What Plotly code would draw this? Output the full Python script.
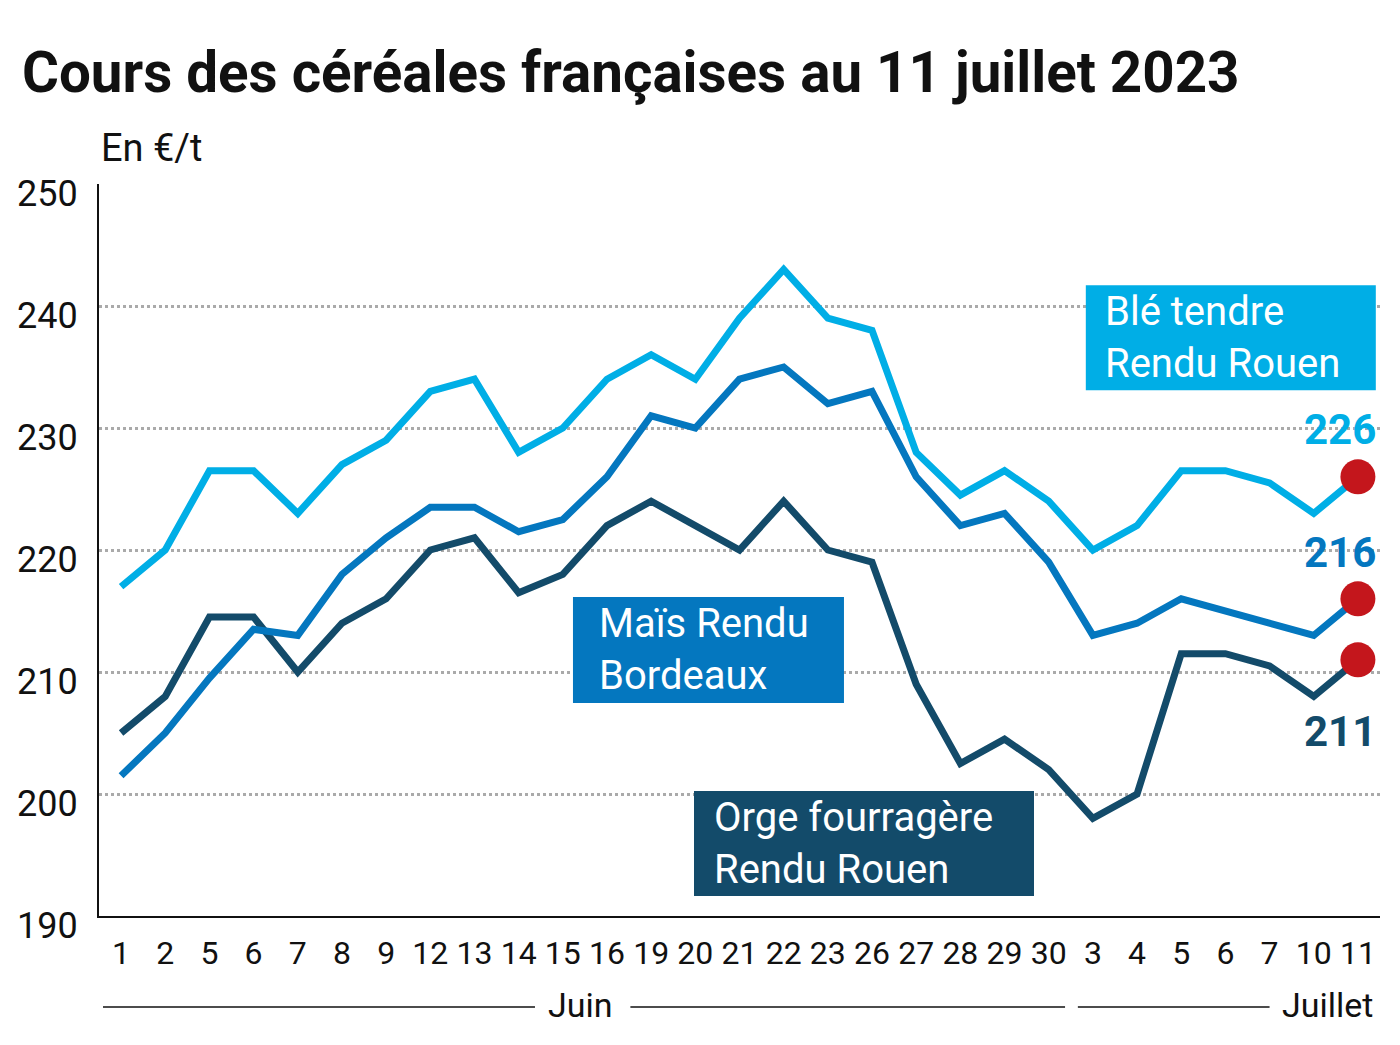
import plotly.graph_objects as go

# ---- data ----
days = ["1", "2", "5", "6", "7", "8", "9", "12", "13", "14", "15", "16", "19", "20", "21",
        "22", "23", "26", "27", "28", "29", "30", "3", "4", "5", "6", "7", "10", "11"]
ble = [217, 220, 226.5, 226.5, 223, 227, 229, 233, 234, 228, 230, 234, 236, 234, 239,
       243, 239, 238, 228, 224.5, 226.5, 224, 220, 222, 226.5, 226.5, 225.5, 223, 226]
mais = [201.5, 205, 209.5, 213.5, 213, 218, 221, 223.5, 223.5, 221.5, 222.5, 226, 231, 230, 234,
        235, 232, 233, 226, 222, 223, 219, 213, 214, 216, 215, 214, 213, 216]
orge = [205, 208, 214.5, 214.5, 210, 214, 216, 220, 221, 216.5, 218, 222, 224, 222, 220,
        224, 220, 219, 209, 202.5, 204.5, 202, 198, 200, 211.5, 211.5, 210.5, 208, 211]
y_ticks = [190, 200, 210, 220, 230, 240, 250]

C_BLE = "#00AEE6"
C_MAIS = "#0477BF"
C_ORGE = "#134B6A"
C_RED = "#C4161C"
FONT = "Roboto"

x = list(range(len(days)))
n = len(days)

fig = go.Figure()
for vals, col in [(orge, C_ORGE), (mais, C_MAIS), (ble, C_BLE)]:
    fig.add_trace(go.Scatter(x=x, y=vals, mode="lines",
                             line=dict(color=col, width=7), hoverinfo="skip"))
fig.add_trace(go.Scatter(x=[x[-1]] * 3, y=[ble[-1], mais[-1], orge[-1]], mode="markers",
                         marker=dict(color=C_RED, size=35), hoverinfo="skip"))

fig.update_layout(
    width=1400, height=1045,
    margin=dict(l=99, r=20, t=184, b=129, autoexpand=False),
    plot_bgcolor="white", paper_bgcolor="white",
    showlegend=False,
    font=dict(family=FONT, color="#111111"),
    title=dict(text="<b>Cours des céréales françaises au 11 juillet 2023</b>",
               x=22 / 1400, xref="container", xanchor="left",
               y=1 - 72 / 1045, yref="container", yanchor="middle",
               font=dict(family=FONT, size=56.5, color="#111111")),
    xaxis=dict(range=[-0.5, n - 0.5], tickvals=x, ticktext=days,
               showgrid=False, zeroline=False, automargin=False,
               showline=True, linecolor="#111111", linewidth=2,
               ticks="", ticklabelstandoff=8,
               tickfont=dict(size=32, color="#111111", family=FONT)),
    yaxis=dict(range=[190, 250], tickvals=y_ticks,
               showgrid=True, gridcolor="#AAAAAA", gridwidth=3, griddash="dot",
               zeroline=False, showline=True, linecolor="#111111", linewidth=2,
               automargin=False,
               ticks="", ticklabelstandoff=12, ticklabelshift=9,
               tickfont=dict(size=36, color="#111111", family=FONT)),
)

ann = []
ann.append(dict(text="En €/t", xref="paper", yref="paper", x=0.0, y=(916 - 148) / 732,
                xanchor="left", yanchor="middle", showarrow=False,
                font=dict(size=38, color="#111111")))

# series label boxes: (text, colour, left x, top y, width px, height px, text pad px)
boxes = [
    ("Blé tendre<br>Rendu Rouen", C_BLE, 21.84, 241.7, 290, 105, 17),
    ("Maïs Rendu<br>Bordeaux", C_MAIS, 10.23, 216.15, 271, 106, 24),
    ("Orge fourragère<br>Rendu Rouen", C_ORGE, 12.97, 200.25, 340, 105, 18),
]
px_per_x = 1281 / n
px_per_y = 732 / 60
shapes = []
for txt, col, bx, by, bw, bh, pad in boxes:
    shapes.append(dict(type="rect", xref="x", yref="y", x0=bx, x1=bx + bw / px_per_x,
                       y0=by, y1=by - bh / px_per_y, fillcolor=col, line=dict(width=0),
                       layer="above"))
    ann.append(dict(text=txt, xref="x", yref="y", x=bx, y=by - bh / px_per_y / 2,
                    xanchor="left", yanchor="middle", align="left", xshift=pad,
                    showarrow=False, font=dict(size=40, color="white")))

# end value labels
for vals, col, ys in [(ble, C_BLE, 47), (mais, C_MAIS, 46), (orge, C_ORGE, -72)]:
    ann.append(dict(text="<b>%d</b>" % round(vals[-1]), xref="x", yref="y",
                    x=x[-1], y=vals[-1], xshift=-18, yshift=ys,
                    xanchor="center", yanchor="middle", showarrow=False,
                    font=dict(size=42, color=col)))

# month labels
yl = (916 - 1005) / 732
ann.append(dict(text="Juin", xref="x", yref="paper", x=10.41, y=yl, xanchor="center",
                yanchor="middle", showarrow=False, font=dict(size=34, color="#111111")))
ann.append(dict(text="Juillet", xref="x", yref="paper", x=28.38, y=yl, xanchor="right",
                yanchor="middle", showarrow=False, font=dict(size=34, color="#111111")))
yline = (916 - 1007) / 732
for a, b in [(-0.41, 9.37), (11.53, 21.37), (21.66, 26.0)]:
    shapes.append(dict(type="line", xref="x", yref="paper", x0=a, x1=b, y0=yline, y1=yline,
                       line=dict(color="#111111", width=1.5)))

fig.update_layout(annotations=ann, shapes=shapes)
fig.write_html("out.html")
